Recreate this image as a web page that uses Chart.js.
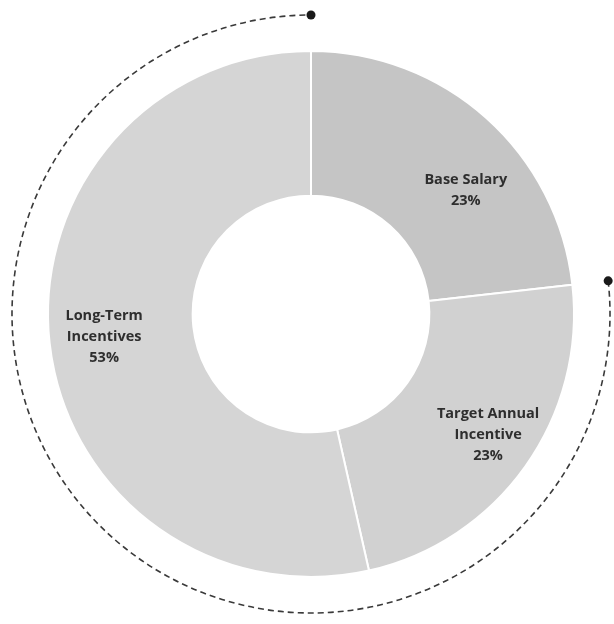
<!DOCTYPE html>
<html>
<head>
<meta charset="utf-8">
<script src="https://cdn.jsdelivr.net/npm/chart.js@4.4.1/dist/chart.umd.min.js"></script>
<style>
  html, body { margin: 0; padding: 0; background: #fff; }
  #wrap { width: 614px; height: 624px; }
</style>
</head>
<body>
<div id="wrap"><canvas id="payChart"></canvas></div>
<script>
const labels = [['Base Salary'], ['Target Annual', 'Incentive'], ['Long-Term', 'Incentives']];
const shares = [23, 23, 53];
const sliceColors = ['#c5c5c5', '#d1d1d1', '#d5d5d5'];

// small per-label shifts (px) from the slice centre line
const labelNudge = [[18, 29], [10, 2], [-3, 0]];

// writes name + percentage inside each slice
const sliceLabels = {
    id: 'sliceLabels',
    afterDatasetsDraw(chart) {
        const ctx = chart.ctx;
        const meta = chart.getDatasetMeta(0);
        ctx.save();
        ctx.fillStyle = '#2e2e2e';
        ctx.font = 'bold 14.5px "Open Sans"';
        ctx.textAlign = 'center';
        ctx.textBaseline = 'middle';
        meta.data.forEach((arc, i) => {
            const p = arc.getProps(['x', 'y', 'startAngle', 'endAngle', 'outerRadius'], true);
            const mid = (p.startAngle + p.endAngle) / 2;
            const r = p.outerRadius * 0.78;
            const x = p.x + Math.cos(mid) * r + labelNudge[i][0];
            const y = p.y + Math.sin(mid) * r + labelNudge[i][1];
            const lines = labels[i].concat([shares[i] + '%']);
            const lh = 21;
            const top = y - (lines.length - 1) * lh / 2;
            lines.forEach((t, k) => ctx.fillText(t, x, top + k * lh));
        });
        ctx.restore();
    }
};

// dashed bracket around the incentive slices, dot at each end
const incentiveArc = {
    id: 'incentiveArc',
    afterDatasetsDraw(chart) {
        const ctx = chart.ctx;
        const meta = chart.getDatasetMeta(0);
        const first = meta.data[1].getProps(['x', 'y', 'startAngle', 'outerRadius'], true);
        const last = meta.data[2].getProps(['endAngle'], true);
        const r = first.outerRadius + 36;
        ctx.save();
        ctx.strokeStyle = '#3a3a3a';
        ctx.lineWidth = 1.6;
        ctx.setLineDash([6, 4]);
        ctx.beginPath();
        ctx.arc(first.x, first.y, r, first.startAngle, last.endAngle);
        ctx.stroke();
        ctx.setLineDash([]);
        ctx.fillStyle = '#1a1a1a';
        [first.startAngle, last.endAngle].forEach(a => {
            ctx.beginPath();
            ctx.arc(first.x + Math.cos(a) * r, first.y + Math.sin(a) * r, 4.5, 0, Math.PI * 2);
            ctx.fill();
        });
        ctx.restore();
    }
};

new Chart(document.getElementById('payChart'), {
    type: 'doughnut',
    data: {
        labels: labels.map(l => l.join(' ')),
        datasets: [{
            data: shares,
            backgroundColor: sliceColors,
            borderColor: '#ffffff',
            borderWidth: 2
        }]
    },
    options: {
        responsive: true,
        maintainAspectRatio: false,
        animation: false,
        cutout: '45%',
        layout: { padding: { left: 47, right: 39, top: 50, bottom: 46 } },
        plugins: {
            legend: { display: false },
            tooltip: { enabled: false }
        }
    },
    plugins: [sliceLabels, incentiveArc]
});
</script>
</body>
</html>
